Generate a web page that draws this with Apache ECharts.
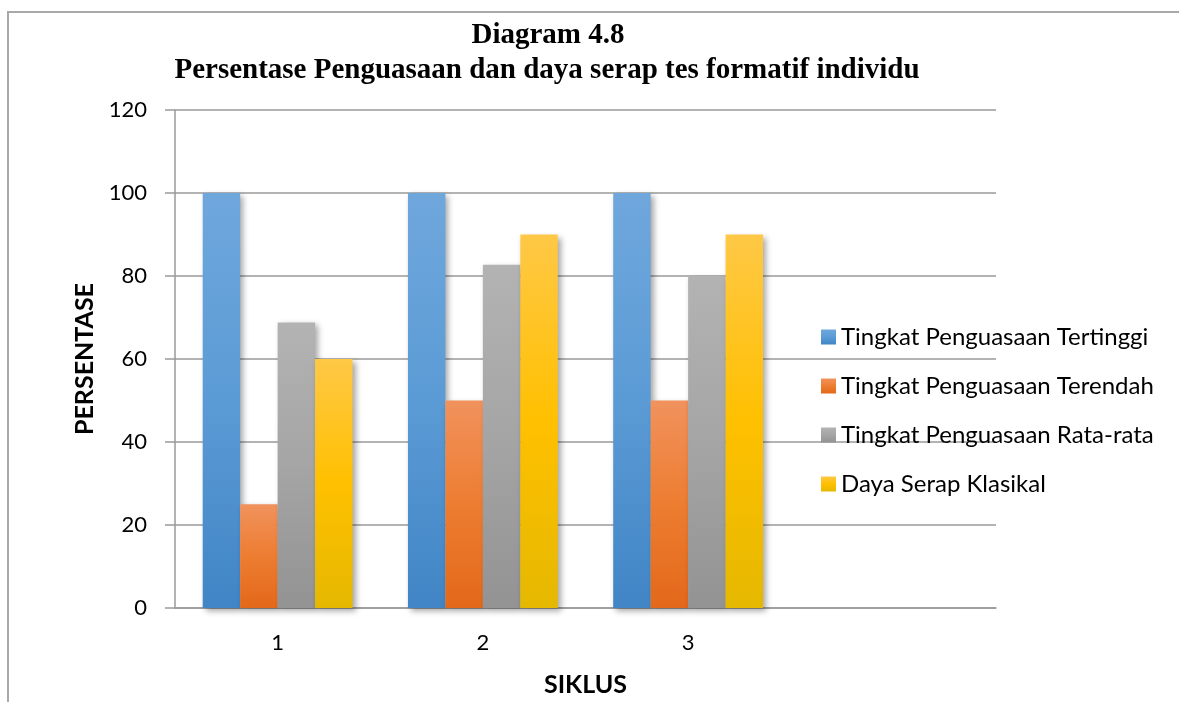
<!DOCTYPE html>
<html>
<head>
<meta charset="utf-8">
<script src="https://cdn.jsdelivr.net/npm/echarts@6/dist/echarts.min.js"></script>
<style>
html,body{margin:0;padding:0;background:#fff;}
#chart{width:1179px;height:702px;}
#frame{position:absolute;left:7px;top:11px;right:0;bottom:0;border-left:2px solid #a9a9a9;border-top:2px solid #a9a9a9;pointer-events:none;}
</style>
</head>
<body>
<div id="chart"></div>
<div id="frame"></div>
<script>
var categories = ['1', '2', '3', ''];
var seriesNames = ['Tingkat Penguasaan Tertinggi', 'Tingkat Penguasaan Terendah', 'Tingkat Penguasaan Rata-rata', 'Daya Serap Klasikal'];
var tertinggi = [100, 100, 100];
var terendah = [25, 50, 50];
var rataRata = [68.8, 82.7, 80];
var dayaSerap = [60, 90, 90];
var yTicks = [0, 20, 40, 60, 80, 100, 120];

var gradients = [
  ['#6fa7dd', '#5b9bd5', '#4185c6'],
  ['#f1925d', '#ed7d31', '#e3681a'],
  ['#b3b3b3', '#a5a5a5', '#939393'],
  ['#ffc846', '#ffc000', '#e5b800']
];
function grad(c) {
  return new echarts.graphic.LinearGradient(0, 0, 0, 1, [
    {offset: 0, color: c[0]}, {offset: 0.5, color: c[1]}, {offset: 1, color: c[2]}
  ]);
}
var dataSets = [tertinggi, terendah, rataRata, dayaSerap];
var series = dataSets.map(function (d, i) {
  return {
    name: seriesNames[i],
    type: 'bar',
    data: d,
    barGap: '0%',
    barCategoryGap: '27%',
    itemStyle: {
      color: grad(gradients[i]),
      shadowBlur: 6,
      shadowOffsetX: 3,
      shadowOffsetY: 3,
      shadowColor: 'rgba(0,0,0,0.35)'
    }
  };
});

var chart = echarts.init(document.getElementById('chart'));
chart.setOption({
  animation: false,
  backgroundColor: '#fff',
  title: [
    {text: 'Diagram 4.8', left: 543, textAlign: 'center', top: 16,
     textStyle: {fontFamily: 'Liberation Serif', fontWeight: 'bold', fontSize: 29, color: '#000'}},
    {text: 'Persentase Penguasaan dan daya serap tes formatif individu', left: 542, textAlign: 'center', top: 51,
     textStyle: {fontFamily: 'Liberation Serif', fontWeight: 'bold', fontSize: 29, color: '#000'}}
  ],
  legend: {
    orient: 'vertical',
    left: 816,
    top: 320,
    itemWidth: 15,
    itemHeight: 15,
    itemGap: 25,
    icon: 'rect',
    textStyle: {fontFamily: 'Lato', fontSize: 24, color: '#000'},
    data: seriesNames
  },
  grid: {left: 175, right: 183, top: 110, bottom: 88, containLabel: false},
  xAxis: {
    type: 'category',
    data: categories,
    name: 'SIKLUS',
    nameLocation: 'middle',
    nameGap: 64,
    nameTextStyle: {fontFamily: 'Lato', fontWeight: 'bold', fontSize: 25, color: '#000'},
    axisLine: {lineStyle: {color: '#9a9a9a', width: 1.5}},
    axisTick: {show: false},
    axisLabel: {fontFamily: 'Lato', fontSize: 22, color: '#000', margin: 24}
  },
  yAxis: {
    type: 'value',
    min: 0,
    max: 120,
    interval: 20,
    name: 'PERSENTASE',
    nameLocation: 'middle',
    nameGap: 74,
    nameTextStyle: {fontFamily: 'Lato', fontWeight: 'bold', fontSize: 25, color: '#000'},
    axisLine: {show: true, lineStyle: {color: '#9a9a9a', width: 1.5}},
    axisTick: {show: true, length: 10, lineStyle: {color: '#9a9a9a', width: 1.5}},
    splitLine: {lineStyle: {color: '#9a9a9a', width: 1.5}},
    axisLabel: {fontFamily: 'Lato', fontSize: 22, color: '#000', margin: 28,
      formatter: function (v) { return yTicks.indexOf(v) >= 0 ? String(v) : ''; }}
  },
  series: series
});
</script>
</body>
</html>
